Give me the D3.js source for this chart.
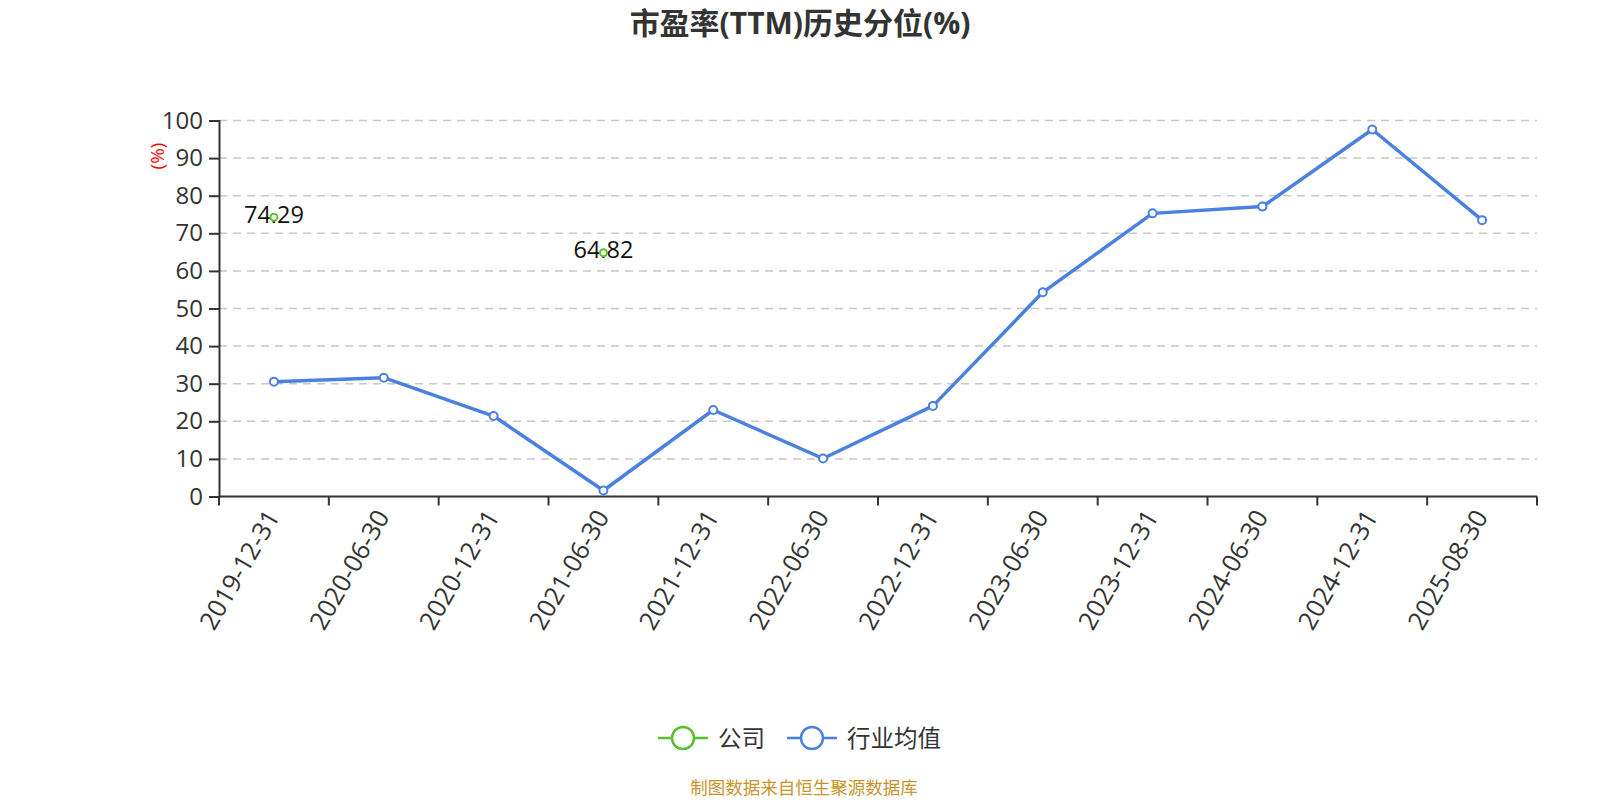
<!DOCTYPE html>
<html>
<head>
<meta charset="utf-8">
<script src="https://cdn.jsdelivr.net/npm/d3@7"></script>
<style>
  html, body { margin: 0; padding: 0; background: #fff; }
  svg { display: block; }
  text { font-family: "Open Sans", "Noto Sans CJK SC", sans-serif; }
</style>
</head>
<body>
<svg id="chart" width="1600" height="800"></svg>
<script>
const categories = ["2019-12-31","2020-06-30","2020-12-31","2021-06-30","2021-12-31","2022-06-30","2022-12-31","2023-06-30","2023-12-31","2024-06-30","2024-12-31","2025-08-30"];
const companyValues = [74.29, null, null, 64.82, null, null, null, null, null, null, null, null];
const industryValues = [30.5, 31.6, 21.4, 1.6, 23.0, 10.1, 24.1, 54.3, 75.3, 77.1, 97.6, 73.5];
const yTicks = [0,10,20,30,40,50,60,70,80,90,100];
const seriesNames = ["公司", "行业均值"];
const titleText = "市盈率(TTM)历史分位(%)";
const yAxisName = "(%)";
const footerText = "制图数据来自恒生聚源数据库";

const colors = { company: "#58c22c", industry: "#4a80e0" };

const svg = d3.select("#chart");
const gLeft = 219, gRight = 1537, gTop = 120.5, gBottom = 496.5;

const x = d3.scaleBand().domain(categories).range([gLeft, gRight]);
const y = d3.scaleLinear().domain([0, 100]).range([gBottom, gTop]);

// title
svg.append("text").attr("x", 800).attr("y", 22)
  .attr("text-anchor", "middle").attr("dominant-baseline", "central")
  .attr("font-size", 30).attr("font-weight", "bold").attr("fill", "#333")
  .text(titleText);

// gridlines
svg.append("g").selectAll("line").data(yTicks.filter(d => d > 0)).join("line")
  .attr("x1", gLeft).attr("x2", gRight)
  .attr("y1", d => y(d)).attr("y2", d => y(d))
  .attr("stroke", "#c8c8c8").attr("stroke-width", 1.5).attr("stroke-dasharray", "8,6");

// y axis
const yAxis = d3.axisLeft(y).tickValues(yTicks).tickSize(10).tickPadding(6);
const gy = svg.append("g").attr("transform", `translate(${gLeft},0)`).call(yAxis);
gy.select(".domain").attr("stroke", "#333").attr("stroke-width", 2);
gy.selectAll(".tick line").attr("stroke", "#333").attr("stroke-width", 2);
gy.selectAll(".tick text").attr("font-size", 24).attr("fill", "#333")
  .attr("font-family", "\"Open Sans\", sans-serif");

// y axis name
svg.append("text").attr("transform", "translate(157,156) rotate(-90)")
  .attr("text-anchor", "middle").attr("dominant-baseline", "central")
  .attr("font-size", 19).attr("fill", "red").text(yAxisName);

// x axis
const xTickPos = d3.range(categories.length + 1).map(i => gLeft + i * x.step());
const gx = svg.append("g");
gx.append("line").attr("x1", gLeft).attr("x2", gRight).attr("y1", gBottom).attr("y2", gBottom)
  .attr("stroke", "#333").attr("stroke-width", 2);
gx.selectAll("line.tk").data(xTickPos).join("line").attr("class", "tk")
  .attr("x1", d => d).attr("x2", d => d).attr("y1", gBottom).attr("y2", gBottom + 9)
  .attr("stroke", "#333").attr("stroke-width", 2);
gx.selectAll("text").data(categories).join("text")
  .attr("transform", d => `translate(${x(d) + x.bandwidth() / 2 - 2},${gBottom + 15}) rotate(-60)`)
  .attr("text-anchor", "end").attr("dominant-baseline", "central")
  .attr("font-size", 25.5).attr("fill", "#333").text(d => d);

const cx = (d, i) => x(categories[i]) + x.bandwidth() / 2;

// industry line
const line = d3.line().defined(d => d != null).x((d, i) => cx(d, i)).y(d => y(d));
svg.append("path").datum(industryValues).attr("d", line)
  .attr("fill", "none").attr("stroke", colors.industry).attr("stroke-width", 3.5)
  .attr("stroke-linejoin", "round");
svg.append("path").datum(companyValues).attr("d", line)
  .attr("fill", "none").attr("stroke", colors.company).attr("stroke-width", 3.5);

// company labels then markers
const compPts = companyValues.map((v, i) => ({ v, i })).filter(d => d.v != null);
svg.append("g").selectAll("text").data(compPts).join("text")
  .attr("x", d => cx(d.v, d.i)).attr("y", d => y(d.v) - 3.5)
  .attr("text-anchor", "middle").attr("dominant-baseline", "central")
  .attr("font-size", 23.5).attr("fill", "#111").text(d => d.v.toFixed(2));
svg.append("g").selectAll("circle").data(compPts).join("circle")
  .attr("cx", d => cx(d.v, d.i)).attr("cy", d => y(d.v)).attr("r", 3.5)
  .attr("fill", "#fff").attr("stroke", colors.company).attr("stroke-width", 2);

// industry markers
svg.append("g").selectAll("circle").data(industryValues.map((v, i) => ({ v, i }))).join("circle")
  .attr("cx", d => cx(d.v, d.i)).attr("cy", d => y(d.v)).attr("r", 4)
  .attr("fill", "#fff").attr("stroke", colors.industry).attr("stroke-width", 2);

// legend
const legendItems = [
  { name: seriesNames[0], color: colors.company, x0: 658 },
  { name: seriesNames[1], color: colors.industry, x0: 787 }
];
const ly = 738;
const lg = svg.append("g");
legendItems.forEach(it => {
  lg.append("line").attr("x1", it.x0).attr("x2", it.x0 + 50).attr("y1", ly).attr("y2", ly)
    .attr("stroke", it.color).attr("stroke-width", 2.5);
  lg.append("circle").attr("cx", it.x0 + 25).attr("cy", ly).attr("r", 11)
    .attr("fill", "#fff").attr("stroke", it.color).attr("stroke-width", 2.5);
  lg.append("text").attr("x", it.x0 + 60).attr("y", ly)
    .attr("dominant-baseline", "central").attr("font-size", 23.5).attr("fill", "#333")
    .attr("font-family", "\"Noto Sans CJK SC\", sans-serif").text(it.name);
});

// footer
svg.append("text").attr("x", 804).attr("y", 787)
  .attr("text-anchor", "middle").attr("dominant-baseline", "central")
  .attr("font-size", 17.5).attr("fill", "#c8942a")
  .attr("font-family", "\"Noto Sans CJK SC\", sans-serif").text(footerText);
</script>
</body>
</html>
